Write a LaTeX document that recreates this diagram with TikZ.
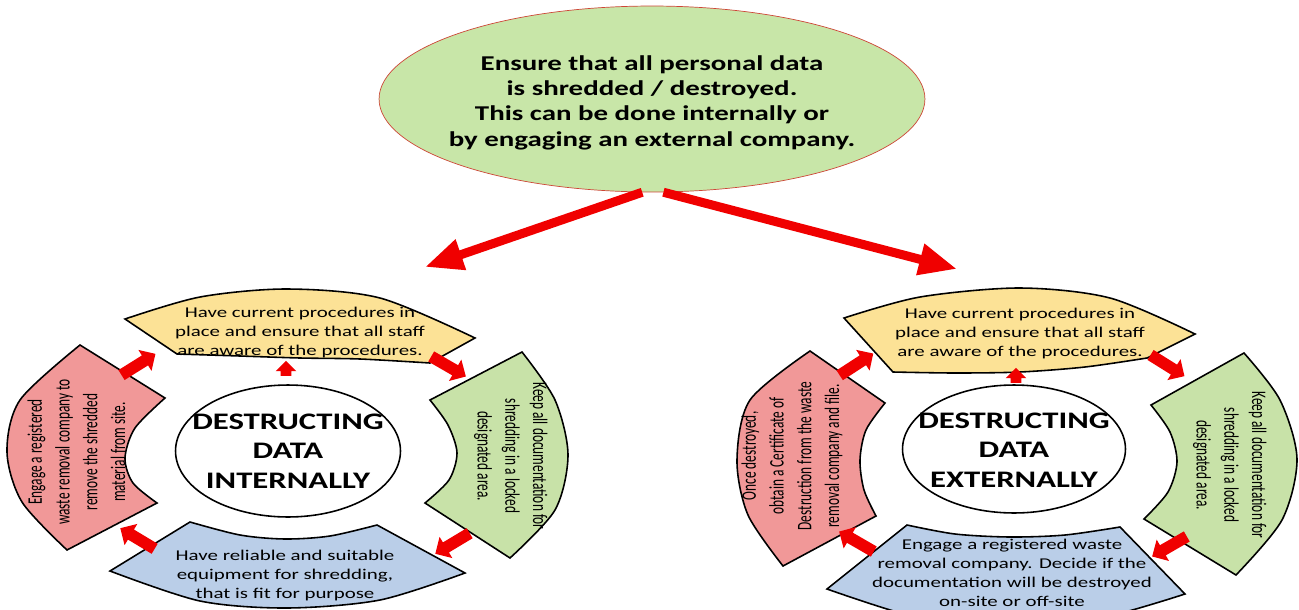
\documentclass[tikz,border=0pt]{standalone}
\usepackage{fontspec}
\setmainfont{Carlito}
\usetikzlibrary{shapes.geometric,shapes.arrows,arrows.meta}

\definecolor{segyellow}{RGB}{252,226,150}
\definecolor{segpink}{RGB}{241,152,152}
\definecolor{seggreen}{RGB}{200,226,168}
\definecolor{segblue}{RGB}{186,206,232}
\definecolor{topgreen}{RGB}{200,230,168}
\definecolor{topedge}{RGB}{205,70,55}
\definecolor{arrowred}{RGB}{240,0,0}

\newcommand{\wide}[2][1.4]{\scalebox{#1}[1]{\begin{tabular}{@{}c@{}}#2\end{tabular}}}
\newcommand{\tall}[1]{\scalebox{1}[1.55]{\begin{tabular}{@{}c@{}}#1\end{tabular}}}

\begin{document}
\begin{tikzpicture}[x=0.02cm, y=-0.02cm,
    seg/.style={draw=black, line width=0.9pt},
    hub/.style={ellipse, draw, line width=0.9pt, fill=white, inner sep=0pt,
        minimum width=4.5cm, minimum height=2.64cm},
    blockarrow/.style={single arrow, fill=arrowred, draw=none, inner xsep=0pt, inner ysep=0.11cm,
        minimum height=0.8cm, single arrow head extend=0.13cm},
    bigarrow/.style={draw=arrowred, line width=0.18cm, -{Triangle[length=0.76cm, width=0.6cm]}},
    segtext/.style={font=\fontsize{8.5}{10.8}\selectfont, inner sep=0pt},
    sidetext/.style={font=\fontsize{7.6}{10.2}\selectfont, inner sep=0pt},
    hubtext/.style={font=\bfseries\fontsize{13.5}{17}\selectfont, inner sep=0pt}
]
\useasboundingbox (0,0) rectangle (1299,609);
\clip (0,0) rectangle (1299,609);

% top statement
\node[ellipse, draw=topedge, fill=topgreen, inner sep=0pt,
    minimum width=10.92cm, minimum height=3.72cm] (top) at (652,99) {};
\node[font=\bfseries\fontsize{12}{14.4}\selectfont, inner sep=0pt] (toplbl) at (652,103)
    {\wide[1.37]{Ensure that all personal data\\ is shredded / destroyed.\\ This can be done internally or\\ by engaging an external company.}};

\coordinate (ltip) at (425,267);
\coordinate (rtip) at (957,269);
\draw[bigarrow] (top.264) -- (ltip);
\draw[bigarrow] (top.277) -- (rtip);

% left cycle: internally
\filldraw[seg, fill=segyellow] plot[smooth] coordinates {(125,319) (200,297) (287,289) (380,298) (475,338)}
    -- plot[smooth] coordinates {(430,363) (360,359) (300,358) (240,356) (177,354)} -- cycle;
\filldraw[seg, fill=seggreen] plot[smooth] coordinates {(522,352) (555,400) (568,455) (555,510) (510,558)}
    -- plot[smooth] coordinates {(425,503) (449,480) (457,453) (448,425) (430,400)} -- cycle;
\filldraw[seg, fill=segblue] plot[smooth] coordinates {(465,573) (380,600) (287,608) (200,601) (110,571)}
    -- plot[smooth] coordinates {(190,522) (240,535) (285,539) (330,536) (377,525)} -- cycle;
\filldraw[seg, fill=segpink] plot[smooth] coordinates {(67,550) (22,502) (7,452) (20,400) (80,345)}
    -- plot[smooth] coordinates {(165,398) (135,428) (125,458) (133,483) (157,503)} -- cycle;

\node[hub] (lhub) at (288,451) {};
\node[hubtext] (lhubtxt) at (288,453) {\wide[1.38]{DESTRUCTING\\ DATA\\ INTERNALLY}};

\node[segtext] (lyel) at (300,333) {\wide{Have current procedures in\\ place and ensure that all staff\\ are aware of the procedures.}};
\node[sidetext, rotate=-90] (lgrn) at (511,456) {\tall{Keep all documentation for\\ shredding in a locked\\ designated area.}};
\node[segtext] (lblu) at (285,576) {\wide{Have reliable and suitable\\ equipment for shredding,\\ that is fit for purpose}};
\node[sidetext, rotate=90] (lpnk) at (78,452) {\tall{Engage a registered\\ waste removal company to\\ remove the shredded\\ material from site.}};

\node[blockarrow, rotate=32] (la1) at (136,366) {};
\node[blockarrow, rotate=-30] (la2) at (446,365) {};
\node[blockarrow, rotate=211] (la3) at (455,542) {};
\node[blockarrow, rotate=149] (la4) at (140,540) {};
\node[blockarrow, rotate=90, minimum height=0.3cm, inner ysep=0.1cm, single arrow head extend=0.1cm] (la5) at (286,371) {};

% right cycle: externally
\filldraw[seg, fill=segyellow] plot[smooth] coordinates {(844,318) (920,297) (1020,288) (1110,298) (1195,334)}
    -- plot[smooth] coordinates {(1147,358) (1085,367) (1020,372) (955,373) (893,372)} -- cycle;
\filldraw[seg, fill=seggreen] plot[smooth] coordinates {(1244,353) (1280,400) (1297,459) (1282,520) (1236,575)}
    -- plot[smooth] coordinates {(1144,519) (1168,492) (1177,462) (1170,432) (1151,405)} -- cycle;
\filldraw[seg, fill=segblue] plot[smooth] coordinates {(1185,594) (1100,618) (1010,625) (920,618) (827,589)}
    -- plot[smooth] coordinates {(907,525) (955,534) (1010,537) (1065,535) (1120,527)} -- cycle;
\filldraw[seg, fill=segpink] plot[smooth] coordinates {(783,566) (748,515) (737,460) (750,400) (810,351)}
    -- plot[smooth] coordinates {(885,403) (866,430) (860,460) (864,490) (876,516)} -- cycle;

\node[hub, minimum width=4.46cm, minimum height=2.56cm] (rhub) at (1014,449) {};
\node[hubtext] (rhubtxt) at (1014,452) {\wide[1.38]{DESTRUCTING\\ DATA\\ EXTERNALLY}};

\node[segtext] (ryel) at (1020,334) {\wide{Have current procedures in\\ place and ensure that all staff\\ are aware of the procedures.}};
\node[sidetext, rotate=-90] (rgrn) at (1230,465) {\tall{Keep all documentation for\\ shredding in a locked\\ designated area.}};
\node[segtext] (rblu) at (1012,574) {\wide{Engage a registered waste\\ removal company. Decide if the\\ documentation will be destroyed\\ on-site or off-site}};
\node[sidetext, rotate=90] (rpnk) at (792,456) {\tall{Once destroyed,\\ obtain a Certificate of\\ Destruction from the waste\\ removal company and file.}};

\node[blockarrow, rotate=33] (ra1) at (854,366) {};
\node[blockarrow, rotate=-32] (ra2) at (1165,364) {};
\node[blockarrow, rotate=210] (ra3) at (1172,545) {};
\node[blockarrow, rotate=150] (ra4) at (859,543) {};
\node[blockarrow, rotate=90, minimum height=0.3cm, inner ysep=0.1cm, single arrow head extend=0.1cm] (ra5) at (1016,378) {};

\end{tikzpicture}
\end{document}
